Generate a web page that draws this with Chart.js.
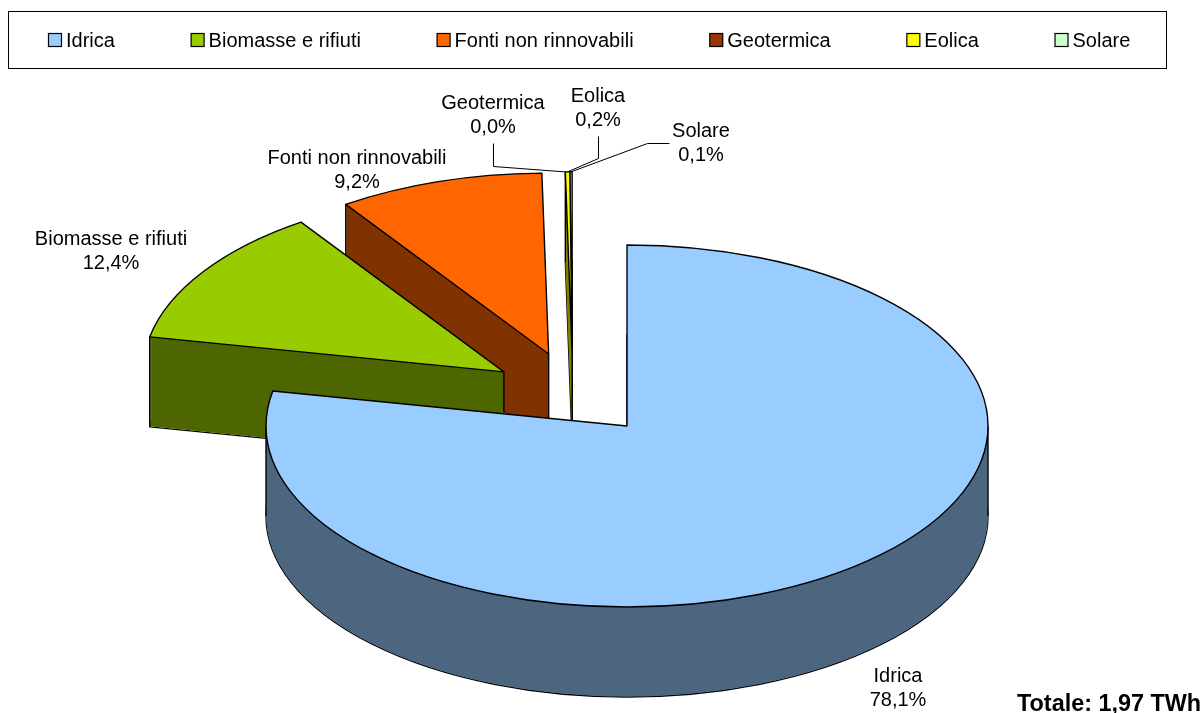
<!DOCTYPE html>
<html>
<head>
<meta charset="utf-8">
<style>html,body{margin:0;padding:0;background:#fff}canvas{display:block}</style>
<script src="https://cdn.jsdelivr.net/npm/chart.js@4/dist/chart.umd.js"></script>
</head>
<body>
<canvas id="c" width="1204" height="713"></canvas>
<script>
const categories = ['Idrica','Biomasse e rifiuti','Fonti non rinnovabili','Geotermica','Eolica','Solare'];
const shares = [78.1,12.4,9.2,0.0,0.2,0.1];
const topColors = ['#99ccff','#99cc00','#ff6600','#993300','#ffff00','#ccffcc'];
const wallColors = ['#4d6680','#4d6600','#803300','#4d1a00','#808000','#668066'];
const totalText = 'Totale: 1,97 TWh';

// Projection of the pie (ellipse, depth) and exploded displacement, as fractions of the radii
const view = {cx:627, cy:426, rx:361, ry:181, depth:90};
const explodeX = [0,-0.341,-0.217,-0.152,-0.152,-0.152];
const explodeY = [0,-0.299,-0.3975,-0.404,-0.404,-0.404];

// Data label placement: centre of the two text lines, optional leader polyline start
const labelCentre = [[898,688.5],[111,251],[357,170],[493,115.5],[598,108],[701,143.5]];
const leaderPaths = [null,null,null,[[493,143],[493,166]],[[598,136],[598,158]],[[669,143],[647,143]]];
const legendFrame = {x:8.5,y:11.5,w:1158,h:57};
const FONT = '"Liberation Sans", Arial, sans-serif';
const pct = v => v.toFixed(1).replace('.',',') + '%';

function place(ctx, el, i, extra) {
  const R = el.outerRadius;
  ctx.translate(view.cx + explodeX[i]*view.rx, view.cy + explodeY[i]*view.ry + (extra||0));
  ctx.scale(view.rx/R, view.ry/R);
  ctx.translate(-el.x, -el.y);
}
function addSlice(ctx, el, i, extra) {
  ctx.save();
  place(ctx, el, i, extra);
  ctx.moveTo(el.x, el.y);
  ctx.arc(el.x, el.y, el.outerRadius, el.startAngle, el.endAngle);
  ctx.closePath();
  ctx.restore();
}
function trace(ctx, el, i, extra) {
  ctx.beginPath();
  addSlice(ctx, el, i, extra);
}
function rimPoint(i, a) {
  return [view.cx + explodeX[i]*view.rx + Math.cos(a)*view.rx,
          view.cy + explodeY[i]*view.ry + Math.sin(a)*view.ry];
}
function inRange(a, s, e) {
  const t = Math.PI*2;
  while (a < s) a += t;
  return a <= e;
}

const pie3d = {
  id:'pie3d',
  beforeLayout(chart){
    // the wide legend spacing must stay on a single row
    const lg = chart.legend;
    if (!lg._oneRow) {
      const orig = lg.update;
      lg.update = function(w, h, m){ return orig.call(this, w + 300, h, m); };
      lg._oneRow = true;
    }
  },
  afterLayout(chart){
    const lg = chart.legend;
    const p = lg.options.labels.padding;
    lg.left = 48 - p; lg.right = 1504; lg.top = 41 - 10 - p;
  },
  beforeDatasetDraw(chart, args){
    const ctx = chart.ctx, arcs = args.meta.data;
    for (let i = arcs.length-1; i >= 0; i--) {
      const el = arcs[i];
      if (shares[i] <= 0) continue;
      ctx.save();
      ctx.lineWidth = 1.4; ctx.strokeStyle = '#000'; ctx.lineJoin = 'round';
      // side walls: bottom outline, then one swept fill
      trace(ctx, el, i, view.depth);
      ctx.stroke();
      ctx.beginPath();
      for (let d = view.depth - 0.5; d >= 1; d--) addSlice(ctx, el, i, d);
      ctx.fillStyle = wallColors[i]; ctx.fill();
      // silhouette verticals
      const verts = [];
      if (inRange(Math.PI, el.startAngle, el.endAngle)) verts.push(rimPoint(i, Math.PI));
      if (inRange(0, el.startAngle, el.endAngle)) verts.push(rimPoint(i, 0));
      if (explodeX[i] !== 0) {
        verts.push(rimPoint(i, el.startAngle));
        verts.push([view.cx + explodeX[i]*view.rx, view.cy + explodeY[i]*view.ry]);
      }
      verts.forEach(p => {
        ctx.beginPath(); ctx.moveTo(p[0], p[1]); ctx.lineTo(p[0], p[1]+view.depth); ctx.stroke();
      });
      // top face through the library's arc element
      ctx.save(); place(ctx, el, i, 0); el.draw(ctx); ctx.restore();
      trace(ctx, el, i, 0); ctx.stroke();
      ctx.restore();
    }
    return false;
  },
  afterDraw(chart){
    const ctx = chart.ctx, lg = chart.legend, arcs = chart.getDatasetMeta(0).data;
    ctx.save();
    // legend frame and swatches
    ctx.strokeStyle = '#000'; ctx.lineWidth = 1;
    ctx.strokeRect(legendFrame.x, legendFrame.y, legendFrame.w, legendFrame.h);
    const p = lg.options.labels.padding;
    let x = 48;
    lg.legendHitBoxes.forEach((hb, i) => {
      ctx.fillStyle = topColors[i];
      ctx.lineWidth = 1.2;
      ctx.fillRect(x+0.5, 33.5, 13, 13);
      ctx.strokeRect(x+0.5, 33.5, 13, 13);
      x += hb.width + p;
    });
    // leaders
    ctx.strokeStyle = '#000'; ctx.lineWidth = 1;
    leaderPaths.forEach((path, i) => {
      if (!path) return;
      const el = arcs[i];
      const end = rimPoint(i, (el.startAngle + el.endAngle)/2);
      ctx.beginPath();
      path.forEach((q, k) => k ? ctx.lineTo(q[0]+.5, q[1]+.5) : ctx.moveTo(q[0]+.5, q[1]+.5));
      ctx.lineTo(end[0], end[1]);
      ctx.stroke();
    });
    // data labels
    ctx.fillStyle = '#000';
    ctx.font = '20px ' + FONT;
    ctx.textAlign = 'center'; ctx.textBaseline = 'middle';
    categories.forEach((name, i) => {
      const [lx, ly] = labelCentre[i];
      ctx.fillText(name, lx, ly - 12);
      ctx.fillText(pct(shares[i]), lx, ly + 12);
    });
    ctx.font = 'bold 23.4px ' + FONT;
    ctx.textAlign = 'left';
    ctx.fillText(totalText, 1017, 705);
    ctx.restore();
  }
};

new Chart(document.getElementById('c'), {
  type:'pie',
  data:{labels:categories, datasets:[{data:shares, backgroundColor:topColors, borderWidth:0}]},
  options:{
    responsive:false, animation:false, rotation:0,
    plugins:{
      tooltip:{enabled:false},
      legend:{
        position:'top', align:'start',
        labels:{
          boxWidth:8, boxHeight:8, padding:75.7, color:'#000',
          font:{family:FONT, size:20},
          generateLabels(chart){
            return chart.data.labels.map((t,i)=>({text:t, fillStyle:'rgba(0,0,0,0)', strokeStyle:'rgba(0,0,0,0)', lineWidth:0, index:i, fontColor:'#000'}));
          }
        }
      }
    }
  },
  plugins:[pie3d]
});
</script>
</body>
</html>
